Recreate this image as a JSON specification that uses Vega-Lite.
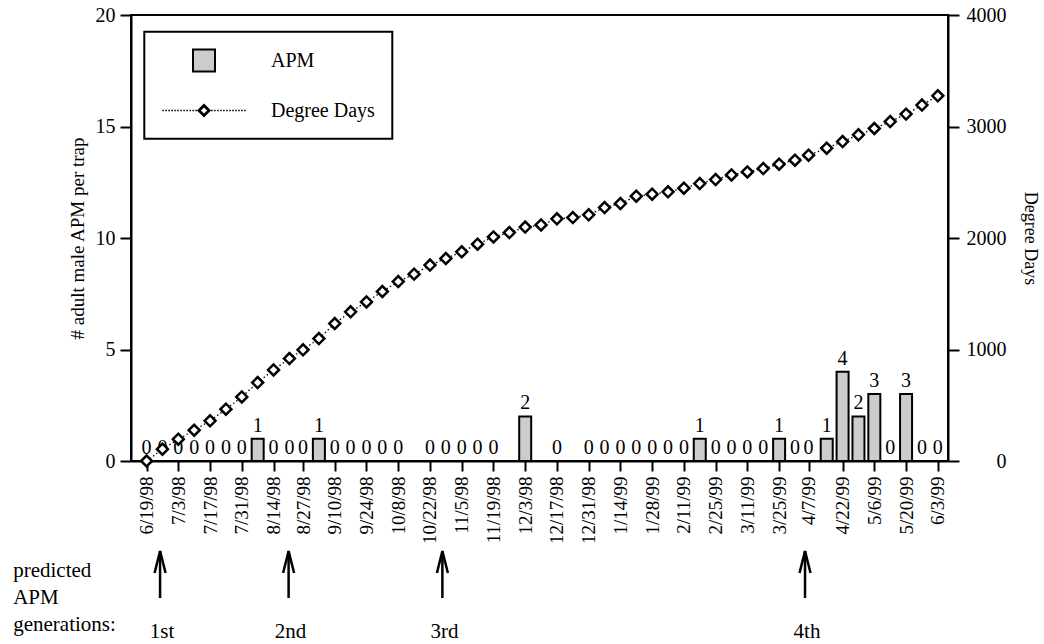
{
  "$schema": "https://vega.github.io/schema/vega-lite/v6.json",
  "padding": {"left": 12, "top": 4, "right": 0, "bottom": 0},
  "background": "white",
  "config": {
    "font": "Liberation Serif",
    "view": {"stroke": null},
    "legend": {"strokeWidth": 2},
    "axis": {"labelColor": "black", "titleColor": "black", "tickColor": "black", "domainColor": "black", "grid": false}
  },
  "spacing": 0,
  "datasets": {
    "weekly": [
      {"date": "1998-06-19", "apm": 0, "dd": 0},
      {"date": "1998-06-26", "apm": 0, "dd": 106},
      {"date": "1998-07-03", "apm": 0, "dd": 196},
      {"date": "1998-07-10", "apm": 0, "dd": 276},
      {"date": "1998-07-17", "apm": 0, "dd": 360},
      {"date": "1998-07-24", "apm": 0, "dd": 465},
      {"date": "1998-07-31", "apm": 0, "dd": 575},
      {"date": "1998-08-07", "apm": 1, "dd": 703},
      {"date": "1998-08-14", "apm": 0, "dd": 817},
      {"date": "1998-08-21", "apm": 0, "dd": 919},
      {"date": "1998-08-27", "apm": 0, "dd": 997},
      {"date": "1998-09-03", "apm": 1, "dd": 1098},
      {"date": "1998-09-10", "apm": 0, "dd": 1233},
      {"date": "1998-09-17", "apm": 0, "dd": 1338},
      {"date": "1998-09-24", "apm": 0, "dd": 1427},
      {"date": "1998-10-01", "apm": 0, "dd": 1520},
      {"date": "1998-10-08", "apm": 0, "dd": 1609},
      {"date": "1998-10-15", "apm": null, "dd": 1676},
      {"date": "1998-10-22", "apm": 0, "dd": 1757},
      {"date": "1998-10-29", "apm": 0, "dd": 1816},
      {"date": "1998-11-05", "apm": 0, "dd": 1876},
      {"date": "1998-11-12", "apm": 0, "dd": 1945},
      {"date": "1998-11-19", "apm": 0, "dd": 2010},
      {"date": "1998-11-26", "apm": null, "dd": 2049},
      {"date": "1998-12-03", "apm": 2, "dd": 2098},
      {"date": "1998-12-10", "apm": null, "dd": 2117},
      {"date": "1998-12-17", "apm": 0, "dd": 2172},
      {"date": "1998-12-24", "apm": null, "dd": 2183},
      {"date": "1998-12-31", "apm": 0, "dd": 2208},
      {"date": "1999-01-07", "apm": 0, "dd": 2273},
      {"date": "1999-01-14", "apm": 0, "dd": 2309},
      {"date": "1999-01-21", "apm": 0, "dd": 2375},
      {"date": "1999-01-28", "apm": 0, "dd": 2393},
      {"date": "1999-02-04", "apm": 0, "dd": 2414},
      {"date": "1999-02-11", "apm": 0, "dd": 2447},
      {"date": "1999-02-18", "apm": 1, "dd": 2488},
      {"date": "1999-02-25", "apm": 0, "dd": 2524},
      {"date": "1999-03-04", "apm": 0, "dd": 2566},
      {"date": "1999-03-11", "apm": 0, "dd": 2593},
      {"date": "1999-03-18", "apm": 0, "dd": 2623},
      {"date": "1999-03-25", "apm": 1, "dd": 2662},
      {"date": "1999-04-01", "apm": 0, "dd": 2698},
      {"date": "1999-04-07", "apm": 0, "dd": 2743},
      {"date": "1999-04-15", "apm": 1, "dd": 2806},
      {"date": "1999-04-22", "apm": 4, "dd": 2865},
      {"date": "1999-04-29", "apm": 2, "dd": 2925},
      {"date": "1999-05-06", "apm": 3, "dd": 2982},
      {"date": "1999-05-13", "apm": 0, "dd": 3044},
      {"date": "1999-05-20", "apm": 3, "dd": 3111},
      {"date": "1999-05-27", "apm": 0, "dd": 3192},
      {"date": "1999-06-03", "apm": 0, "dd": 3275}
    ],
    "gens": [
      {"date": "1998-06-27", "label": "1st"},
      {"date": "1998-08-22", "label": "2nd"},
      {"date": "1998-10-28", "label": "3rd"},
      {"date": "1999-04-04", "label": "4th"}
    ]
  },
  "vconcat": [
    {
      "width": 817,
      "height": 446,
      "view": {"stroke": "black", "strokeWidth": 2},
      "data": {"name": "weekly"},
      "encoding": {
        "x": {
          "field": "date",
          "type": "temporal",
          "scale": {
            "type": "utc",
            "domain": [
              {"year": 1998, "month": 6, "date": 14, "hours": 8, "utc": true},
              {"year": 1999, "month": 6, "date": 5, "hours": 7, "utc": true}
            ]
          },
          "axis": {
            "values": [
              {"year": 1998, "month": 6, "date": 19, "utc": true},
              {"year": 1998, "month": 7, "date": 3, "utc": true},
              {"year": 1998, "month": 7, "date": 17, "utc": true},
              {"year": 1998, "month": 7, "date": 31, "utc": true},
              {"year": 1998, "month": 8, "date": 14, "utc": true},
              {"year": 1998, "month": 8, "date": 27, "utc": true},
              {"year": 1998, "month": 9, "date": 10, "utc": true},
              {"year": 1998, "month": 9, "date": 24, "utc": true},
              {"year": 1998, "month": 10, "date": 8, "utc": true},
              {"year": 1998, "month": 10, "date": 22, "utc": true},
              {"year": 1998, "month": 11, "date": 5, "utc": true},
              {"year": 1998, "month": 11, "date": 19, "utc": true},
              {"year": 1998, "month": 12, "date": 3, "utc": true},
              {"year": 1998, "month": 12, "date": 17, "utc": true},
              {"year": 1998, "month": 12, "date": 31, "utc": true},
              {"year": 1999, "month": 1, "date": 14, "utc": true},
              {"year": 1999, "month": 1, "date": 28, "utc": true},
              {"year": 1999, "month": 2, "date": 11, "utc": true},
              {"year": 1999, "month": 2, "date": 25, "utc": true},
              {"year": 1999, "month": 3, "date": 11, "utc": true},
              {"year": 1999, "month": 3, "date": 25, "utc": true},
              {"year": 1999, "month": 4, "date": 7, "utc": true},
              {"year": 1999, "month": 4, "date": 22, "utc": true},
              {"year": 1999, "month": 5, "date": 6, "utc": true},
              {"year": 1999, "month": 5, "date": 20, "utc": true},
              {"year": 1999, "month": 6, "date": 3, "utc": true}
            ],
            "labelExpr": "utcFormat(datum.value, '%-m/%-d/%y')",
            "labelAngle": -90,
            "labelAlign": "right",
            "labelBaseline": "middle",
            "labelFontSize": 19,
            "labelPadding": 5,
            "labelOverlap": false,
            "labelFlush": false,
            "tickSize": 10,
            "tickWidth": 2,
            "domainWidth": 2,
            "title": null
          }
        }
      },
      "layer": [
        {
          "transform": [{"filter": "isValid(datum.apm)"}],
          "layer": [
            {
              "mark": {"type": "bar", "width": 12, "fill": "#cccccc", "stroke": "black", "strokeWidth": 2},
              "encoding": {
                "y": {
                  "field": "apm",
                  "type": "quantitative",
                  "scale": {"domain": [0, 20], "nice": false},
                  "axis": {
                    "orient": "left",
                    "values": [0, 5, 10, 15, 20],
                    "tickSize": 11,
                    "tickWidth": 2,
                    "domainWidth": 2,
                    "labelFontSize": 20,
                    "labelPadding": 5,
                    "title": "# adult male APM per trap",
                    "titleFontSize": 19,
                    "titleFontWeight": "normal",
                    "titlePadding": 8
                  }
                }
              }
            },
            {
              "mark": {"type": "text", "dy": -7, "baseline": "alphabetic", "fontSize": 20, "color": "black"},
              "encoding": {
                "y": {"field": "apm", "type": "quantitative"},
                "text": {"field": "apm", "type": "quantitative"}
              }
            }
          ]
        },
        {
          "layer": [
            {
              "mark": {"type": "line", "stroke": "black", "strokeWidth": 1.3, "strokeDash": [1.5, 2.5]},
              "encoding": {
                "y": {
                  "field": "dd",
                  "type": "quantitative",
                  "scale": {"domain": [0, 4000], "nice": false},
                  "axis": {
                    "orient": "right",
                    "values": [0, 1000, 2000, 3000, 4000],
                    "format": "d",
                    "tickSize": 11,
                    "tickWidth": 2,
                    "domainWidth": 2,
                    "labelFontSize": 20,
                    "labelAlign": "right",
                    "labelPadding": 47,
                    "title": "Degree Days",
                    "titleFontSize": 18,
                    "titleFontWeight": "normal",
                    "titlePadding": 14
                  }
                }
              }
            },
            {
              "mark": {"type": "point", "shape": "diamond", "filled": true, "fill": "white", "stroke": "black", "strokeWidth": 2.5, "size": 120, "opacity": 1},
              "encoding": {
                "y": {"field": "dd", "type": "quantitative"}
              }
            }
          ]
        },
        {
          "transform": [{"filter": "false"}],
          "mark": {"type": "point", "filled": true, "opacity": 1},
          "encoding": {
            "shape": {
              "datum": "Degree Days",
              "scale": {"domain": ["APM", "Degree Days"], "range": ["square", "M-3.79,-0.07h0.14v0.14h-0.14zM-3.52,-0.07h0.14v0.14h-0.14zM-3.24,-0.07h0.14v0.14h-0.14zM-2.97,-0.07h0.14v0.14h-0.14zM-2.7,-0.07h0.14v0.14h-0.14zM-2.43,-0.07h0.14v0.14h-0.14zM-2.15,-0.07h0.14v0.14h-0.14zM-1.88,-0.07h0.14v0.14h-0.14zM-1.61,-0.07h0.14v0.14h-0.14zM-1.33,-0.07h0.14v0.14h-0.14zM-1.06,-0.07h0.14v0.14h-0.14zM-0.79,-0.07h0.14v0.14h-0.14zM0.65,-0.07h0.14v0.14h-0.14zM0.92,-0.07h0.14v0.14h-0.14zM1.2,-0.07h0.14v0.14h-0.14zM1.47,-0.07h0.14v0.14h-0.14zM1.74,-0.07h0.14v0.14h-0.14zM2.02,-0.07h0.14v0.14h-0.14zM2.29,-0.07h0.14v0.14h-0.14zM2.56,-0.07h0.14v0.14h-0.14zM2.83,-0.07h0.14v0.14h-0.14zM3.11,-0.07h0.14v0.14h-0.14zM3.38,-0.07h0.14v0.14h-0.14zM3.65,-0.07h0.14v0.14h-0.14zM0,-0.64L0.64,0L0,0.64L-0.64,0ZM0,-0.28L-0.28,0L0,0.28L0.28,0Z"]},
              "legend": {
                "title": null,
                "orient": "none",
                "legendX": 13.3,
                "legendY": 16.7,
                "direction": "vertical",
                "padding": 16.8,
                "symbolSize": 484,
                "symbolStrokeWidth": 2,
                "symbolOpacity": 1,
                "symbolOffset": 30.9,
                "labelOffset": 55,
                "rowPadding": 23,
                "labelFontSize": 20,
                "labelColor": "black",
                "strokeColor": "black"
              }
            },
            "fill": {
              "datum": "Degree Days",
              "scale": {"domain": ["APM", "Degree Days"], "range": ["#cccccc", "black"]},
              "legend": {
                "title": null,
                "orient": "none",
                "legendX": 13.3,
                "legendY": 16.7,
                "direction": "vertical",
                "padding": 16.8,
                "symbolSize": 484,
                "symbolStrokeWidth": 2,
                "symbolOpacity": 1,
                "symbolOffset": 30.9,
                "labelOffset": 55,
                "rowPadding": 23,
                "labelFontSize": 20,
                "labelColor": "black",
                "strokeColor": "black"
              }
            },
            "stroke": {
              "datum": "Degree Days",
              "scale": {"domain": ["APM", "Degree Days"], "range": ["black", "transparent"]},
              "legend": {
                "title": null,
                "orient": "none",
                "legendX": 13.3,
                "legendY": 16.7,
                "direction": "vertical",
                "padding": 16.8,
                "symbolSize": 484,
                "symbolStrokeWidth": 2,
                "symbolOpacity": 1,
                "symbolOffset": 30.9,
                "labelOffset": 55,
                "rowPadding": 23,
                "labelFontSize": 20,
                "labelColor": "black",
                "strokeColor": "black"
              }
            }
          }
        }
      ],
      "resolve": {"scale": {"y": "independent"}}
    },
    {
      "width": 817,
      "height": 89,
      "data": {"name": "gens"},
      "encoding": {
        "x": {
          "field": "date",
          "type": "temporal",
          "scale": {
            "type": "utc",
            "domain": [
              {"year": 1998, "month": 6, "date": 14, "hours": 8, "utc": true},
              {"year": 1999, "month": 6, "date": 5, "hours": 7, "utc": true}
            ]
          },
          "axis": null
        }
      },
      "layer": [
        {
          "mark": {"type": "rule", "stroke": "black", "strokeWidth": 2.5},
          "encoding": {
            "y": {
              "datum": 0.449,
              "type": "quantitative",
              "scale": {"domain": [0, 1], "nice": false},
              "axis": {
                "labels": false,
                "ticks": false,
                "domain": false,
                "grid": false,
                "title": ["predicted", "APM", "generations:"],
                "titleAngle": 0,
                "titleAlign": "left",
                "titleBaseline": "alphabetic",
                "titleX": -118.3,
                "titleY": 27,
                "titleLineHeight": 27,
                "titleFontSize": 21,
                "titleFontWeight": "normal"
              }
            },
            "y2": {"datum": 0.978}
          }
        },
        {
          "mark": {"type": "point", "shape": "M-0.5,1L0,-1L0.5,1", "filled": false, "stroke": "black", "strokeWidth": 2.5, "size": 484, "opacity": 1},
          "encoding": {"y": {"datum": 0.854, "type": "quantitative"}}
        },
        {
          "mark": {"type": "text", "fontSize": 21, "baseline": "alphabetic", "dx": 2, "color": "black"},
          "encoding": {
            "y": {"datum": 0, "type": "quantitative"},
            "text": {"field": "label"}
          }
        }
      ]
    }
  ]
}
